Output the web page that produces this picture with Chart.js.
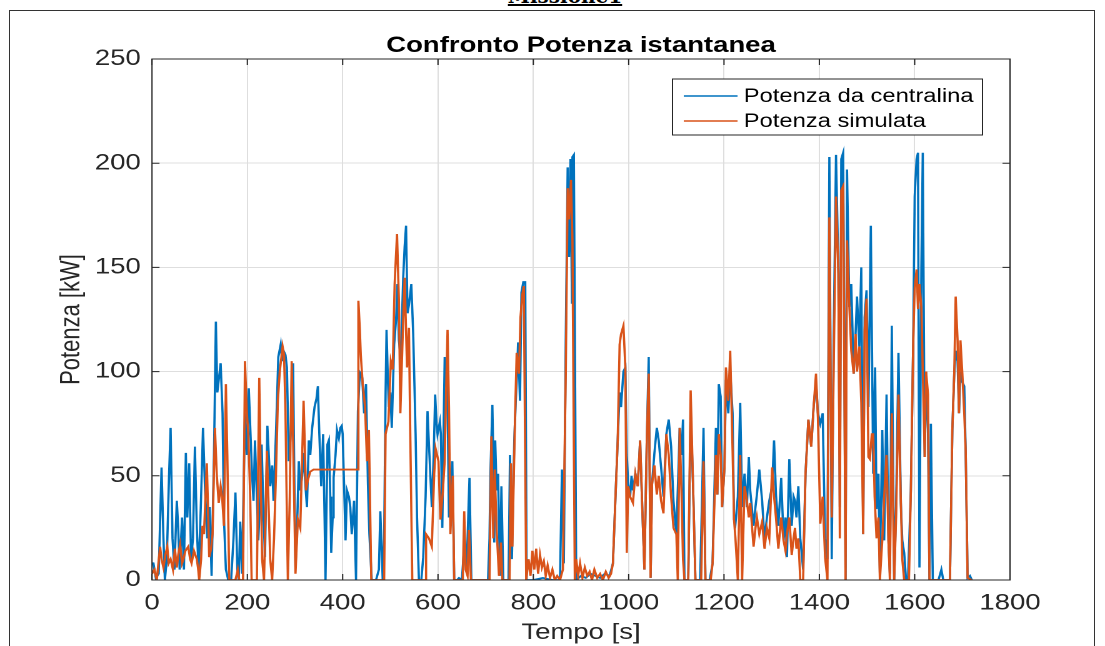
<!DOCTYPE html>
<html lang="it">
<head>
<meta charset="utf-8">
<title>Missione1 - Confronto Potenza istantanea</title>
<script src="https://cdn.jsdelivr.net/npm/chart.js@4.4.1/dist/chart.umd.min.js"></script>
<style>
  html, body { margin: 0; padding: 0; background: #fff; }
  body { width: 1105px; height: 646px; position: relative; overflow: hidden; }
  #missione { position: absolute; left: 0; top: -14px; width: 1130px; text-align: center;
              font: bold 20px "DejaVu Serif", serif; line-height: 20px; text-decoration: underline; color: #000; }
  #cornice { position: absolute; left: 9px; top: 10px; width: 1086px; height: 700px;
             border: 1.5px solid #333; box-sizing: border-box; }
  /* la figura esportata risulta allargata in orizzontale */
  #wrap { position: absolute; left: 0; top: 0; width: 884px; height: 646px;
          transform: scaleX(1.25); transform-origin: 0 0; }
</style>
</head>
<body>
<div id="missione">Missione1</div>
<div id="wrap"><canvas id="grafico" width="884" height="646"></canvas></div>
<div id="cornice"></div>
<script>
const xTicks = [0, 200, 400, 600, 800, 1000, 1200, 1400, 1600, 1800];
const yTicks = [0, 50, 100, 150, 200, 250];

// Potenza da centralina [kW] (tempo in s)
const tempoCentralina = [
  0, 3, 8, 14, 20, 24, 27, 31, 36, 39,
  43, 47, 52, 55, 58, 63, 67, 71, 74, 78,
  82, 86, 90, 94, 98, 103, 107, 111, 116, 121,
  125, 130, 134, 137, 140, 144, 148, 151, 155, 160,
  166, 171, 175, 179, 182, 185, 189, 195, 199, 203,
  206, 210, 213, 216, 220, 223, 227, 230, 234, 237,
  242, 245, 248, 252, 255, 260, 265, 270, 273, 276,
  280, 283, 287, 291, 296, 299, 301, 304, 308, 311,
  315, 318, 322, 325, 329, 332, 336, 341, 345, 348,
  351, 355, 359, 362, 364, 368, 371, 374, 376, 379,
  381, 385, 388, 392, 395, 398, 400, 403, 406, 409,
  413, 416, 419, 424, 428, 432, 435, 437, 441, 445,
  449, 453, 456, 461, 470, 476, 479, 484, 487, 490,
  492, 495, 497, 500, 503, 508, 512, 515, 518, 522,
  525, 527, 530, 533, 536, 539, 544, 548, 553, 556,
  560, 565, 569, 574, 578, 581, 584, 587, 591, 594,
  597, 599, 604, 606, 609, 611, 614, 617, 620, 623,
  627, 630, 634, 640, 644, 650, 656, 660, 666, 670,
  705, 708, 710, 714, 716, 718, 720, 723, 726, 730,
  733, 737, 748, 751, 755, 760, 763, 766, 768, 772,
  775, 779, 783, 786, 800, 820, 840, 856, 860, 864,
  868, 872, 875, 878, 881, 882, 885, 890, 900, 910,
  920, 930, 940, 950, 960, 967, 972, 977, 981, 984,
  989, 993, 996, 999, 1003, 1006, 1009, 1014, 1019, 1024,
  1028, 1033, 1038, 1042, 1046, 1049, 1054, 1059, 1063, 1068,
  1073, 1079, 1084, 1089, 1094, 1100, 1104, 1107, 1111, 1114,
  1117, 1125, 1130, 1135, 1140, 1150, 1154, 1157, 1161, 1170,
  1176, 1183, 1186, 1189, 1193, 1196, 1201, 1204, 1209, 1213,
  1218, 1221, 1224, 1229, 1234, 1238, 1243, 1248, 1252, 1255,
  1262, 1266, 1269, 1274, 1280, 1285, 1290, 1295, 1301, 1305,
  1309, 1314, 1320, 1325, 1329, 1332, 1337, 1342, 1346, 1349,
  1352, 1356, 1360, 1366, 1371, 1377, 1383, 1388, 1393, 1397,
  1402, 1407, 1412, 1417, 1421, 1426, 1430, 1435, 1440, 1443,
  1446, 1450, 1455, 1458, 1463, 1467, 1472, 1476, 1479, 1484,
  1488, 1492, 1495, 1499, 1503, 1508, 1513, 1517, 1520, 1524,
  1527, 1532, 1536, 1541, 1545, 1548, 1552, 1557, 1561, 1566,
  1571, 1574, 1578, 1582, 1586, 1592, 1597, 1600, 1604, 1607,
  1610, 1614, 1617, 1621, 1624, 1628, 1631, 1634, 1638, 1650,
  1656, 1660, 1674, 1679, 1683, 1686, 1690, 1693, 1696, 1700,
  1704, 1707, 1711, 1716, 1720
];
const potenzaCentralina = [
  8, 8, 1, 3, 54, 20, 0, 10, 52, 73,
  20, 5, 38, 25, 5, 30, 5, 61, 30, 56,
  10, 20, 64, 25, 3, 40, 73, 45, 20, 35,
  2, 60, 124, 90, 96, 104, 80, 29, 5, 0,
  0, 20, 42, 5, 0, 28, 3, 80, 60, 92,
  74, 50, 38, 67, 40, 19, 40, 65, 30, 11,
  74, 60, 45, 55, 38, 70, 107, 113, 105, 110,
  108, 102, 57, 70, 104, 40, 6, 22, 57, 43,
  50, 61, 45, 35, 67, 60, 73, 83, 87, 93,
  70, 45, 70, 30, 0, 65, 67, 40, 13, 30,
  49, 60, 72, 68, 73, 74, 70, 45, 19, 43,
  40, 35, 22, 38, 0, 81, 95, 99, 97, 80,
  94, 46, 22, 0, 0, 5, 33, 0, 20, 89,
  120, 95, 83, 90, 73, 113, 125, 142, 115, 106,
  130, 145, 160, 170, 128, 132, 142, 118, 70, 30,
  0, 0, 11, 40, 81, 65, 50, 35, 60, 89,
  75, 70, 76, 70, 25, 60, 107, 95, 88, 30,
  45, 57, 0, 0, 1, 0, 19, 5, 49, 0,
  0, 20, 51, 84, 60, 18, 67, 43, 51, 2,
  45, 0, 0, 60, 10, 67, 85, 100, 114, 86,
  138, 143, 143, 0, 0, 1, 0, 0, 53, 8,
  115, 198, 155, 202, 133, 203, 204, 0, 2, 1,
  3, 2, 1, 3, 2, 8, 38, 67, 90, 83,
  100, 102, 60, 46, 40, 50, 43, 51, 45, 67,
  38, 5, 67, 107, 1, 46, 61, 73, 67, 54,
  40, 70, 77, 64, 38, 22, 50, 73, 60, 77,
  0, 0, 81, 46, 0, 0, 40, 73, 0, 0,
  8, 73, 41, 94, 88, 35, 54, 96, 80, 100,
  80, 29, 27, 40, 85, 35, 51, 35, 59, 43,
  26, 35, 41, 53, 38, 19, 30, 38, 45, 67,
  41, 26, 49, 19, 30, 11, 58, 26, 40, 38,
  30, 45, 20, 5, 51, 77, 64, 83, 95, 80,
  75, 80, 20, 10, 203, 10, 115, 204, 147, 35,
  202, 205, 0, 197, 131, 142, 99, 118, 136, 112,
  150, 22, 126, 139, 83, 170, 51, 102, 34, 51,
  3, 72, 19, 89, 19, 3, 122, 0, 35, 109,
  37, 19, 13, 0, 0, 43, 115, 184, 202, 205,
  6, 150, 205, 59, 100, 70, 0, 75, 0, 0,
  5, 0, 0, 72, 99, 110, 105, 80, 100, 95,
  93, 62, 1, 2, 0
];

// Potenza simulata [kW] (tempo in s)
const tempoSimulata = [
  0, 5, 10, 17, 20, 24, 28, 32, 35, 39,
  44, 48, 52, 55, 59, 63, 66, 70, 76, 80,
  83, 88, 94, 97, 99, 103, 106, 109, 115, 118,
  120, 124, 127, 132, 136, 140, 144, 147, 151, 155,
  158, 162, 175, 180, 183, 191, 195, 199, 202, 206,
  209, 220, 225, 228, 231, 235, 238, 241, 244, 248,
  252, 256, 260, 264, 268, 274, 277, 280, 283, 285,
  289, 293, 297, 301, 306, 311, 314, 318, 323, 327,
  332, 339, 432, 433, 436, 438, 442, 447, 451, 455,
  460, 487, 490, 496, 501, 505, 509, 514, 518, 521,
  526, 530, 535, 539, 542, 546, 573, 575, 581, 587,
  592, 595, 601, 605, 610, 614, 617, 620, 623, 626,
  631, 634, 652, 655, 658, 662, 665, 669, 708, 712,
  716, 719, 723, 728, 732, 735, 750, 753, 756, 761,
  765, 770, 773, 777, 780, 785, 790, 794, 798, 802,
  806, 810, 814, 818, 822, 826, 830, 835, 840, 845,
  850, 856, 862, 868, 872, 875, 879, 882, 887, 890,
  894, 898, 903, 908, 913, 918, 923, 928, 934, 940,
  946, 952, 958, 963, 967, 972, 977, 981, 984, 989,
  993, 996, 999, 1003, 1009, 1014, 1019, 1024, 1028, 1033,
  1038, 1042, 1046, 1049, 1054, 1059, 1063, 1068, 1073, 1079,
  1084, 1089, 1094, 1100, 1103, 1107, 1111, 1114, 1117, 1125,
  1130, 1135, 1140, 1152, 1157, 1161, 1172, 1176, 1183, 1186,
  1189, 1193, 1196, 1201, 1204, 1209, 1213, 1218, 1221, 1224,
  1229, 1234, 1238, 1243, 1248, 1252, 1255, 1262, 1266, 1269,
  1274, 1280, 1285, 1290, 1295, 1301, 1305, 1309, 1314, 1320,
  1325, 1329, 1332, 1337, 1342, 1346, 1349, 1352, 1356, 1360,
  1366, 1371, 1377, 1383, 1388, 1393, 1397, 1402, 1407, 1412,
  1417, 1421, 1426, 1430, 1435, 1440, 1443, 1446, 1450, 1455,
  1458, 1463, 1467, 1472, 1476, 1479, 1484, 1488, 1492, 1495,
  1499, 1503, 1506, 1510, 1513, 1516, 1520, 1524, 1527, 1532,
  1536, 1541, 1545, 1548, 1552, 1557, 1561, 1566, 1571, 1574,
  1578, 1588, 1592, 1597, 1600, 1604, 1607, 1610, 1614, 1617,
  1621, 1624, 1628, 1631, 1674, 1679, 1683, 1686, 1690, 1693,
  1696, 1700, 1704, 1707, 1711, 1720
];
const potenzaSimulata = [
  3, 5, 0, 16, 10, 6, 12, 16, 8, 10,
  5, 15, 6, 12, 17, 8, 10, 14, 16, 10,
  8, 14, 10, 5, 0, 10, 26, 22, 56, 30,
  11, 15, 22, 73, 50, 37, 45, 40, 26, 94,
  60, 0, 0, 5, 0, 0, 105, 80, 70, 40,
  0, 0, 97, 50, 10, 0, 30, 62, 40, 10,
  0, 20, 50, 86, 100, 112, 108, 81, 30, 0,
  40, 105, 55, 3, 29, 25, 50, 86, 43, 48,
  52, 53, 53, 134, 120, 108, 94, 83, 57, 72,
  0, 0, 70, 76, 105, 101, 142, 166, 134, 80,
  118, 145, 102, 121, 67, 0, 0, 22, 20, 16,
  51, 63, 57, 29, 42, 57, 90, 120, 83, 22,
  50, 0, 0, 33, 5, 2, 24, 0, 0, 69,
  20, 53, 24, 2, 18, 0, 0, 56, 16, 72,
  109, 99, 126, 137, 141, 0, 10, 2, 14, 5,
  15, 3, 12, 6, 9, 2, 7, 1, 5, 0,
  2, 0, 5, 99, 188, 173, 192, 163, 0, 10,
  2, 8, 1, 6, 2, 4, 0, 5, 1, 3,
  0, 4, 1, 3, 8, 38, 67, 113, 118, 122,
  102, 13, 45, 40, 37, 51, 45, 67, 38, 5,
  67, 99, 1, 46, 55, 41, 50, 38, 32, 70,
  60, 40, 25, 22, 0, 73, 40, 10, 0, 0,
  91, 46, 0, 0, 57, 0, 0, 8, 60, 41,
  70, 60, 35, 54, 102, 86, 110, 62, 29, 20,
  0, 60, 0, 45, 38, 30, 37, 16, 25, 30,
  22, 28, 15, 25, 20, 54, 40, 30, 15, 30,
  19, 14, 22, 30, 12, 20, 25, 15, 20, 0,
  0, 51, 77, 64, 83, 99, 78, 27, 40, 11,
  0, 174, 30, 100, 184, 147, 20, 187, 189, 0,
  163, 131, 110, 99, 118, 100, 112, 85, 22, 120,
  135, 59, 58, 70, 70, 40, 20, 30, 0, 19,
  40, 60, 19, 0, 80, 0, 30, 89, 37, 10,
  0, 0, 43, 115, 140, 149, 130, 142, 131, 100,
  59, 100, 89, 0, 0, 72, 99, 136, 115, 80,
  115, 99, 80, 62, 1, 0
];

const coloreCentralina = '#0072BD';
const coloreSimulata = '#D95319';
const testo = '#262626';
const famiglia = '"Liberation Sans", Arial, sans-serif';

Chart.defaults.font.family = famiglia;

function punti(tempi, valori) {
  return tempi.map((t, i) => ({ x: t, y: valori[i] }));
}

// box degli assi, tacche interne, titolo e legenda in stile MATLAB
const assiMatlab = {
  id: 'assiMatlab',
  afterDatasetsDraw(chart) {
    const { ctx, chartArea: a, scales: { x, y } } = chart;
    ctx.save();
    ctx.strokeStyle = testo;
    ctx.lineWidth = 1;
    ctx.strokeRect(a.left, a.top, a.right - a.left, a.bottom - a.top);
    ctx.beginPath();
    xTicks.forEach(v => {
      const px = x.getPixelForValue(v);
      ctx.moveTo(px, a.bottom); ctx.lineTo(px, a.bottom - 6);
      ctx.moveTo(px, a.top); ctx.lineTo(px, a.top + 6);
    });
    yTicks.forEach(v => {
      const py = y.getPixelForValue(v);
      ctx.moveTo(a.left, py); ctx.lineTo(a.left + 6, py);
      ctx.moveTo(a.right, py); ctx.lineTo(a.right - 6, py);
    });
    ctx.stroke();

    ctx.fillStyle = '#000';
    ctx.font = 'bold 22px ' + famiglia;
    ctx.textAlign = 'center';
    ctx.textBaseline = 'alphabetic';
    ctx.fillText('Confronto Potenza istantanea', (a.left + a.right) / 2, 52);

    // legenda
    const lx = 538, ly = 79, lw = 248, lh = 56;
    ctx.fillStyle = '#fff';
    ctx.fillRect(lx, ly, lw, lh);
    ctx.strokeStyle = testo;
    ctx.strokeRect(lx, ly, lw, lh);
    ctx.font = '19px ' + famiglia;
    ctx.textAlign = 'left';
    ctx.textBaseline = 'middle';
    chart.data.datasets.forEach((ds, i) => {
      const ry = ly + 17 + i * 25;
      ctx.strokeStyle = ds.borderColor;
      ctx.lineWidth = 1.6;
      ctx.beginPath();
      ctx.moveTo(lx + 9, ry); ctx.lineTo(lx + 52, ry);
      ctx.stroke();
      ctx.fillStyle = '#000';
      ctx.fillText(ds.label, lx + 57, ry + 1);
    });
    ctx.restore();
  }
};

new Chart(document.getElementById('grafico'), {
  type: 'line',
  data: {
    datasets: [
      {
        label: 'Potenza da centralina',
        data: punti(tempoCentralina, potenzaCentralina),
        borderColor: coloreCentralina,
        borderWidth: 1.8,
        pointRadius: 0,
        tension: 0,
        order: 1
      },
      {
        label: 'Potenza simulata',
        data: punti(tempoSimulata, potenzaSimulata),
        borderColor: coloreSimulata,
        borderWidth: 1.8,
        pointRadius: 0,
        tension: 0,
        order: 0
      }
    ]
  },
  options: {
    responsive: false,
    animation: false,
    devicePixelRatio: 2,
    layout: { padding: { top: 59, right: 76, bottom: 0, left: 0 } },
    plugins: {
      legend: { display: false },
      tooltip: { enabled: false }
    },
    scales: {
      x: {
        type: 'linear',
        min: 0,
        max: 1800,
        afterBuildTicks: s => { s.ticks = xTicks.map(v => ({ value: v })); },
        afterFit: s => { s.height = 66; },
        grid: { color: '#dedede', drawTicks: false },
        border: { display: false },
        ticks: { color: testo, font: { size: 22 }, padding: 10, maxRotation: 0, autoSkip: false,
                 callback: v => String(v) },
        title: { display: true, text: 'Tempo [s]', color: testo, font: { size: 22 }, padding: { top: 0, bottom: 0 } }
      },
      y: {
        min: 0,
        max: 250,
        afterBuildTicks: s => { s.ticks = yTicks.map(v => ({ value: v })); },
        afterFit: s => { s.width = 121.6; },
        grid: { color: '#dedede', drawTicks: false },
        border: { display: false },
        ticks: { color: testo, font: { size: 22 }, padding: 9, autoSkip: false,
                 callback: v => String(v) },
        title: { display: true, text: 'Potenza [kW]', color: testo, font: { size: 22 }, padding: { top: 44.4, bottom: 0 } }
      }
    }
  },
  plugins: [assiMatlab]
});
</script>
</body>
</html>
